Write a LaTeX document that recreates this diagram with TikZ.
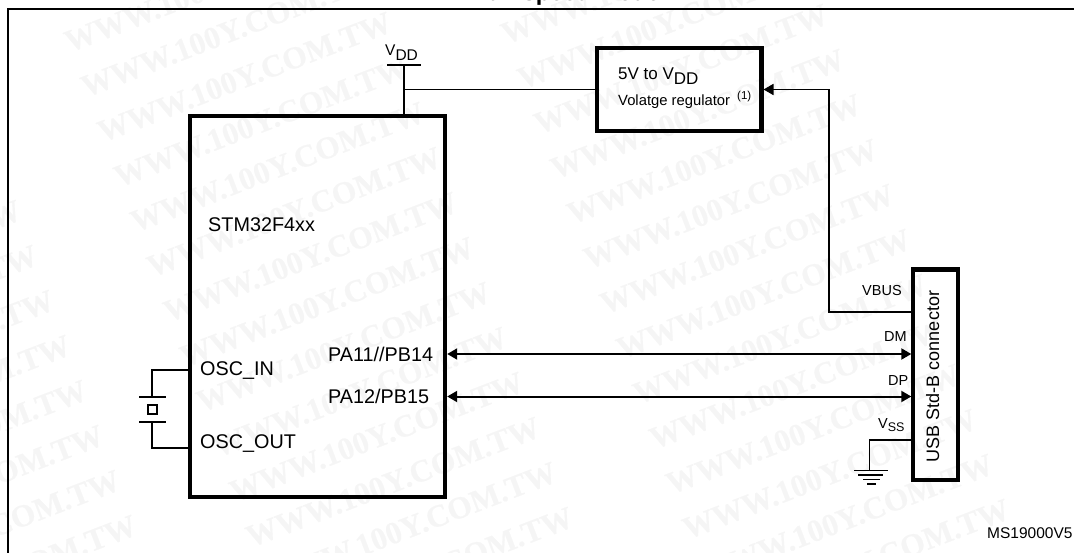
\documentclass[tikz,border=0pt]{standalone}
\usepackage{fontspec}
\setmainfont{Liberation Sans}
\newfontfamily\wmfont{Liberation Serif}[FakeBold=0.6]
\usetikzlibrary{arrows.meta}
\tikzset{
  wire/.style={line width=1.7pt,black},
  bar/.style={line width=1.7pt,black},
  thinbar/.style={line width=1.4pt,black},
  bus/.style={line width=2pt,black,{Triangle[length=10pt,width=11pt]}-{Triangle[length=10pt,width=11pt]}},
  block/.style={draw=black,line width=4.2pt,fill=none,inner sep=0pt,outer sep=2pt},
  lab/.style={inner sep=0pt,font=\fontsize{19.8}{20}\selectfont,anchor=base west},
  sm/.style={inner sep=0pt,font=\fontsize{14.5}{15}\selectfont,anchor=base west},
  wmark/.style={inner sep=0pt,text=black!4,rotate=21,anchor=base west,font=\wmfont\bfseries\fontsize{31.5}{32}\selectfont},
}
\begin{document}
\begin{tikzpicture}[x=1pt,y=-1pt]
\useasboundingbox (0,0) rectangle (1074,553);
\clip (0,0) rectangle (1074,553);
% watermark columns
\foreach \k in {6,...,13}
  \node[wmark] (wa\k) at ({-367+16.5*\k},{60.6+45*\k}) {WWW.100Y.COM.TW};
\foreach \k in {0,...,13}
  \node[wmark] (wb\k) at ({69.5+16.5*\k},{52.6+45*\k}) {WWW.100Y.COM.TW};
\foreach \k in {0,...,13}
  \node[wmark] (wc\k) at ({506+16.5*\k},{44.6+45*\k}) {WWW.100Y.COM.TW};
% title, cut by the top edge
\node[inner sep=0pt,anchor=base west,font=\bfseries\fontsize{23.5}{24}\selectfont] (title) at (473,0.6) {Full-speed mode};
% frame
\coordinate (frA) at (8,553);
\coordinate (frB) at (8,9);
\coordinate (frC) at (1074,9);
\draw[line width=2.3pt] (frA) -- (frB) -- (frC);
% blocks
\node[block,minimum width=255pt,minimum height=381pt] (stm) at (317.7,306.5) {};
\node[block,minimum width=164.5pt,minimum height=83pt] (reg) at (679.25,89.5) {};
\node[block,minimum width=45pt,minimum height=210.8pt] (usb) at (935.8,374.9) {};
% vdd
\coordinate (vdd) at (404,65);
\coordinate (vddL) at (387,65);
\coordinate (vddR) at (421,65);
\draw[bar] (vddL) -- (vddR);
\draw[wire] (vdd) -- (vdd |- stm.north);
\coordinate (vj) at (404,89.5);
\draw[wire] (vj) -- (reg.west);
% vbus
\coordinate (vb) at (829,312);
\draw[wire,-{Triangle[length=10pt,width=11pt]}] (vb -| usb.west) -- (vb) -- (vb |- reg.east) -- (reg.east);
% data lines
\coordinate (dm) at (650,354);
\coordinate (dp) at (650,396.5);
\draw[bus] (dm -| stm.east) -- (dm -| usb.west);
\draw[bus] (dp -| stm.east) -- (dp -| usb.west);
% vss
\coordinate (gs) at (869.5,440);
\coordinate (g0) at (869.5,470.5);
\draw[wire] (gs -| usb.west) -- (gs) -- (g0);
\coordinate (g1a) at (854,470.5); \coordinate (g1b) at (888,470.5);
\coordinate (g2a) at (858,475); \coordinate (g2b) at (883,475);
\coordinate (g3a) at (863,479.5); \coordinate (g3b) at (880,479.5);
\coordinate (g4a) at (867,484); \coordinate (g4b) at (876,484);
\draw[thinbar] (g1a) -- (g1b);
\draw[thinbar] (g2a) -- (g2b);
\draw[thinbar] (g3a) -- (g3b);
\draw[thinbar] (g4a) -- (g4b);
% crystal
\coordinate (x1) at (152.3,370);
\coordinate (x2) at (152.3,448);
\coordinate (xb1) at (152.3,397);
\coordinate (xb2) at (152.3,422);
\coordinate (xa) at (139,397); \coordinate (xc) at (166,397);
\coordinate (xd) at (139,422); \coordinate (xe) at (166,422);
\coordinate (xq1) at (148,405); \coordinate (xq2) at (157,414);
\draw[wire] (x1 -| stm.west) -- (x1) -- (xb1);
\draw[wire] (x2 -| stm.west) -- (x2) -- (xb2);
\draw[bar] (xa) -- (xc);
\draw[bar] (xd) -- (xe);
\draw[line width=1.6pt] (xq1) rectangle (xq2);
% text
\node[inner sep=0pt,anchor=base west,font=\fontsize{15.5}{16}\selectfont] (tv) at (385,56) {V\raisebox{-0.27em}{DD}};
\node[lab] (t1) at (208,232) {STM32F4xx};
\node[lab] (t2) at (200,376) {OSC\_IN};
\node[lab] (t3) at (200,448) {OSC\_OUT};
\node[lab] (t4) at (328,362) {PA11//PB14};
\node[lab] (t5) at (328,403) {PA12/PB15};
\node[lab,font=\fontsize{17}{17}\selectfont] (t6) at (618,80) {5V to V\raisebox{-0.27em}{DD}};
\node[sm,font=\fontsize{14.8}{15}\selectfont] (t7) at (618,106) {Volatge regulator};
\node[sm,font=\fontsize{11.5}{12}\selectfont] (t8) at (737,100) {(1)};
\node[sm] (t9) at (862,296) {VBUS};
\node[sm] (t10) at (884,342) {DM};
\node[sm] (t11) at (888,385) {DP};
\node[sm] (t12) at (878,428) {V\raisebox{-0.27em}{\fontsize{12.5}{13}\selectfont SS}};
\node[inner sep=0pt,rotate=90,anchor=base,font=\fontsize{18}{18}\selectfont] (t13) at (939,376.5) {USB Std-B connector};
\node[sm,font=\fontsize{15.5}{16}\selectfont] (t14) at (987,538) {MS19000V5};
\end{tikzpicture}
\end{document}
